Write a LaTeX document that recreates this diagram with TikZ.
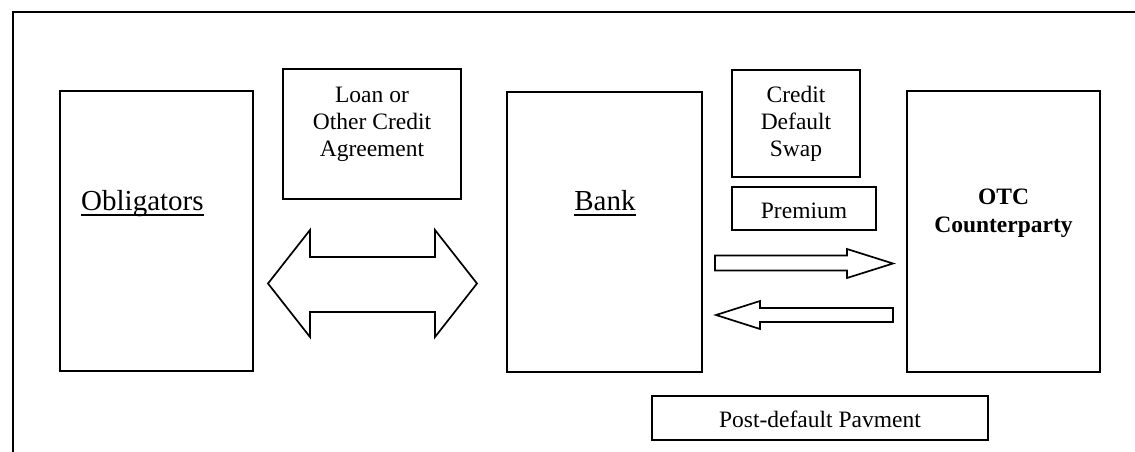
\documentclass[tikz,border=0pt]{standalone}
\usepackage{fontspec}
\setmainfont{Liberation Serif}
% underline with a heavier rule, drawn through the descenders
\newcommand\thickul[1]{\setbox0\hbox{#1}\rlap{\rule[-5.5pt]{\wd0}{1.4pt}}\box0}
\begin{document}
\begin{tikzpicture}[x=1pt,y=-1pt,
  frameline/.style={line width=2.2pt},
  party/.style={draw,line width=2pt,inner sep=0pt},
  tag/.style={draw,line width=1.9pt,inner sep=0pt},
  bigtxt/.style={font=\fontsize{29}{33}\selectfont,inner sep=0pt,anchor=base},
  smalltxt/.style={font=\fontsize{23.5}{26.8}\selectfont,inner sep=0pt,align=center,anchor=base},
  blockarrow/.style={draw,line width=1.7pt,line join=miter,fill=white}]
\useasboundingbox (0,0) rectangle (1135,452);
\clip (0,0) rectangle (1135,452);
% outer frame, running off the page to the right and below
\draw[frameline] (13,480) -- (13,12) -- (1160,12);

% the three parties
\node[party,minimum width=193pt,minimum height=280pt] (oblig) at (156.5,231) {};
\node[party,minimum width=195pt,minimum height=280pt] (bank) at (604.5,232) {};
\node[party,minimum width=193pt,minimum height=281pt] (otc) at (1003.5,231.5) {};

% label boxes
\node[tag,minimum width=178pt,minimum height=130pt] (loanbox) at (372,134) {};
\node[tag,minimum width=128pt,minimum height=107pt] (cdsbox) at (796,123.5) {};
\node[tag,minimum width=144pt,minimum height=43pt] (prembox) at (804,208.5) {};
\node[tag,minimum width=336pt,minimum height=44pt] (postbox) at (820,418) {};

% texts (multi-line nodes sit on the baseline of their last line)
\node[bigtxt,anchor=base west] (obligtxt) at (81,210) {\thickul{Obligators}};
\node[bigtxt] (banktxt) at (605,210) {\thickul{Bank}};
\node[smalltxt] (loantxt) at (372,156) {Loan or\\Other Credit\\Agreement};
\node[smalltxt] (cdstxt) at (796,156) {Credit\\Default\\Swap};
\node[smalltxt] (premtxt) at (804,218) {Premium};
\node[smalltxt,font=\fontsize{23.5}{28.5}\selectfont\bfseries] (otctxt) at (1003.5,232.5) {OTC\\Counterparty};
\node[smalltxt] (posttxt) at (820,427) {Post-default Pavment};

% loan agreement: two-headed block arrow between obligators and bank
\draw[blockarrow] (268,283.5) -- (310,230) -- (310,257) -- (435,257) -- (435,230)
  -- (477,283.5) -- (435,337) -- (435,312) -- (310,312) -- (310,337) -- cycle;

% premium flows to the counterparty
\draw[blockarrow] (715,255.5) -- (847,255.5) -- (847,249) -- (893,263.5)
  -- (847,278) -- (847,270.5) -- (715,270.5) -- cycle;

% post-default payment flows back to the bank
\draw[blockarrow] (893,308) -- (760,308) -- (760,301) -- (716,315)
  -- (760,329) -- (760,322) -- (893,322) -- cycle;
\end{tikzpicture}
\end{document}
